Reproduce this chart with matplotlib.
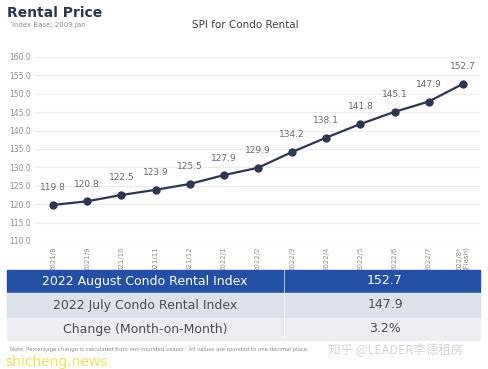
import matplotlib.pyplot as plt
from matplotlib.patches import Rectangle

months = ["2021/8", "2021/9", "021/10", "021/11", "021/12", "2022/1", "2022/2",
          "2022/3", "2022/4", "2022/5", "2022/6", "2022/7", "022/8*\n(Flash)"]
spi = [119.8, 120.8, 122.5, 123.9, 125.5, 127.9, 129.9,
       134.2, 138.1, 141.8, 145.1, 147.9, 152.7]
table_labels = ["2022 August Condo Rental Index", "2022 July Condo Rental Index",
                "Change (Month-on-Month)"]
table_values = ["152.7", "147.9", "3.2%"]

W, H = 488, 369
fig = plt.figure(figsize=(W / 100, H / 100), dpi=100)
fig.patch.set_facecolor("white")

ax = fig.add_axes([35 / W, 1 - 241 / H, 445 / W, 184 / H])
x = list(range(len(spi)))
ax.plot(x, spi, color="#2e3652", lw=1.6, marker="o", ms=5,
        markerfacecolor="#2e3652", markeredgecolor="#2e3652", zorder=3)
for xi, v in zip(x, spi):
    ax.annotate(f"{v:.1f}", (xi, v), xytext=(0, 9), textcoords="offset points",
                ha="center", va="bottom", fontsize=6.5, color="#666a73")

ax.set_xlim(-0.53, 12.5)
ax.set_ylim(110, 160)
ax.set_yticks(range(110, 161, 5))
ax.set_yticklabels([f"{v:.1f}" for v in range(110, 161, 5)])
ax.grid(axis="y", color="#ececef", lw=0.8)
ax.set_axisbelow(True)
for s in ax.spines.values():
    s.set_visible(False)
ax.tick_params(axis="y", length=0, labelsize=5.5, labelcolor="#8a8d95", pad=3)
ax.set_xticks(x)
ax.set_xticklabels(months, rotation=90, fontsize=5, color="#8a8d95",
                   linespacing=1.0)
ax.tick_params(axis="x", length=0, pad=4)

fig.text(7 / W, 1 - 13 / H, "Rental Price", fontsize=10, fontweight="bold",
         color="#2b3551", va="center")
fig.text(12 / W, 1 - 25 / H, "Index Base: 2009 Jan", fontsize=5, color="#8a8d95",
         va="center")
fig.text(245 / W, 1 - 25 / H, "SPI for Condo Rental", fontsize=7.5,
         color="#3a3f4a", ha="center", va="center")

# summary table
rows = [(270, 292, "#2350a3", "white"), (293, 317, "#dde1e8", "#4a4d55"),
        (318, 340, "#eceef2", "#4a4d55")]
for (y0, y1, bg, fg), lab, val in zip(rows, table_labels, table_values):
    fig.patches.append(Rectangle((7 / W, 1 - y1 / H), 276 / W, (y1 - y0) / H,
                                 transform=fig.transFigure, color=bg))
    fig.patches.append(Rectangle((285 / W, 1 - y1 / H), 195 / W, (y1 - y0) / H,
                                 transform=fig.transFigure, color=bg))
    yc = 1 - (y0 + y1) / 2 / H
    fig.text(145 / W, yc, lab, fontsize=9, color=fg, ha="center", va="center")
    fig.text(385 / W, yc, val, fontsize=9, color=fg, ha="center", va="center")

fig.text(10 / W, 1 - 350 / H,
         "Note: Percentage change is calculated from non-rounded values.  "
         "All values are rounded to one decimal place.",
         fontsize=3.9, color="#8a8d95", va="center")
fig.text(328 / W, 1 - 349 / H, "知乎 @LEADER李德租房", fontsize=9,
         color="#d4d6da", va="center", family=["Noto Sans CJK SC", "DejaVu Sans"])
fig.text(5 / W, 1 - 362 / H, "shicheng.news", fontsize=10, color="#e8e04a",
         va="center", alpha=0.9)

fig.savefig("out.png", dpi=100)
